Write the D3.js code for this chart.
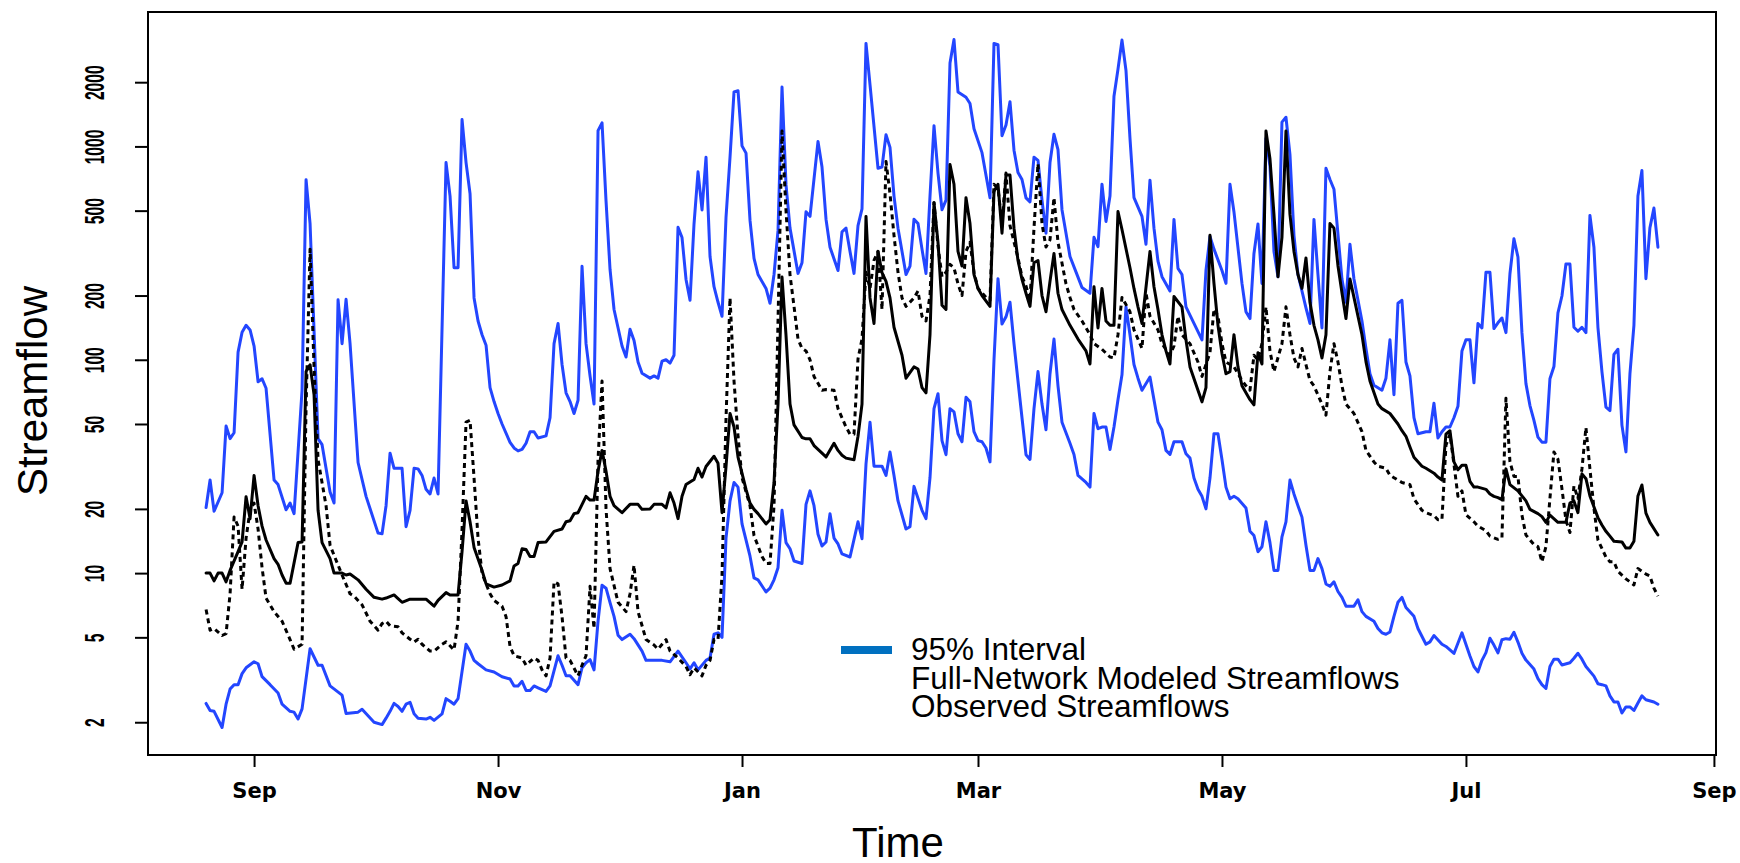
<!DOCTYPE html>
<html>
<head>
<meta charset="utf-8">
<script src="https://cdn.jsdelivr.net/npm/d3@7/dist/d3.min.js"></script>
<style>
  html, body { margin: 0; padding: 0; background: #fff; }
  svg { display: block; }
</style>
</head>
<body>
<svg id="chart" width="1740" height="863"></svg>
<script>
// Daily streamflow record, 20 Aug 2010 - 18 Aug 2011.
// Each series is a list of [day offset from startDate, streamflow].
const startDate = new Date(2010, 7, 20);

const upperBand = [[0,20.3],[1,27.3],[2,19.5],[4,23.8],[5,48.9],[6,42.7],[7,45.5],[8,108.6],[9,134.6],[10,145],[11,138],[12,116],[13,78.9],[14,81.5],[15,73.5],[17,27.3],[18,26],[20,19.8],[21,21.3],[22,19],[24,72],[25,698],[26,435],[28,42.7],[29,40],[31,24],[32,21.3],[33,191],[34,119],[35,192],[36,119],[38,33],[40,22.9],[43,15.4],[44,15.3],[45,20.7],[46,36.5],[47,31],[49,31],[50,16.5],[51,19.7],[52,31],[53,30.8],[54,28.7],[55,24.7],[56,23.5],[57,27.9],[58,23.5],[60,840],[61,585],[62,270],[63,270],[64,1336],[65,840],[66,600],[67,195],[68,152],[69,131],[70,117],[71,74],[72,63.7],[73,56],[74,50],[76,41],[77,38.6],[78,37.4],[79,38],[80,40.6],[81,46],[82,46],[83,43],[85,44],[86,53.5],[87,119],[88,148],[89,95],[90,70],[91,63.7],[92,56],[93,64.6],[94,274],[95,119],[96,84],[97,62],[98,1185],[99,1290],[100,556],[101,265],[102,172],[104,116],[105,103],[106,139],[107,123],[108,97.6],[109,86.4],[111,82],[112,84],[113,82],[114,98.5],[115,100],[116,96.5],[117,105],[118,418],[119,374],[120,238],[121,190],[122,434],[123,760],[124,504],[125,890],[126,305],[127,220],[128,186],[129,160],[130,466],[131,890],[132,1800],[133,1825],[134,1006],[135,930],[136,450],[137,299],[138,251],[140,216],[141,184],[142,251],[143,403],[144,1900],[145,660],[146,414],[148,254],[149,285],[150,494],[151,470],[153,1055],[154,800],[155,456],[156,337],[158,262],[159,398],[160,414],[161,322],[162,254],[163,425],[164,510],[165,3040],[166,1950],[168,790],[169,800],[170,1135],[171,990],[172,585],[173,414],[175,251],[176,275],[177,456],[178,435],[179,330],[180,254],[181,585],[182,1250],[183,750],[184,505],[185,560],[186,2460],[187,3170],[188,1800],[190,1700],[191,1590],[192,1210],[194,935],[196,574],[197,3040],[198,3000],[199,1122],[200,1260],[201,1620],[202,960],[203,755],[204,700],[205,574],[206,550],[207,890],[208,860],[209,560],[210,392],[211,840],[212,1140],[213,965],[214,505],[216,305],[218,244],[219,218],[221,205],[222,375],[223,339],[224,665],[225,445],[226,585],[227,1720],[228,2300],[229,3150],[230,2270],[231,1090],[232,575],[234,470],[235,348],[236,695],[237,414],[238,290],[239,245],[241,210],[242,455],[243,268],[244,251],[245,177],[247,148],[249,124],[250,262],[251,378],[252,330],[254,262],[255,228],[256,665],[257,493],[259,228],[260,168],[261,156],[262,315],[263,433],[264,228],[265,1090],[266,810],[267,322],[268,245],[269,1300],[270,1370],[271,915],[272,383],[273,251],[274,210],[275,175],[276,148],[277,455],[278,251],[279,141],[280,790],[281,700],[282,630],[284,239],[285,186],[286,348],[287,239],[289,152],[290,113],[291,86],[292,76],[294,72],[295,82],[296,124],[297,68.6],[298,184],[299,190],[300,97.6],[301,84],[302,53.5],[303,45],[305,46],[306,46],[307,62.6],[308,43],[309,46],[310,48.4],[311,48.4],[312,53.5],[313,60.5],[314,110],[315,124],[316,124],[317,78],[318,148],[319,141],[320,257],[321,257],[322,140],[323,149],[324,157],[325,134],[326,253],[327,369],[328,303],[329,134],[330,77.3],[331,61],[332,52],[333,43.4],[334,41.1],[335,41.1],[336,81.5],[337,92.9],[338,166],[339,199],[340,281],[341,281],[342,142],[343,136],[344,142],[345,134],[346,475],[347,337],[348,142],[349,88],[350,60],[351,57.8],[352,106],[353,112],[354,49.4],[355,37],[356,85.8],[357,145],[358,586],[359,771],[360,240],[361,416],[362,514],[363,337]];

const lowerBand = [[0,2.45],[1,2.27],[2,2.25],[4,1.89],[5,2.43],[6,2.86],[7,3.0],[8,3.0],[9,3.38],[10,3.6],[12,3.84],[13,3.76],[14,3.27],[16,3.0],[18,2.74],[19,2.43],[21,2.25],[22,2.23],[23,2.07],[24,2.31],[26,4.42],[28,3.7],[29,3.7],[31,2.96],[34,2.68],[35,2.2],[38,2.23],[39,2.3],[42,2.0],[44,1.95],[45,2.09],[46,2.25],[47,2.45],[48,2.37],[49,2.25],[50,2.43],[51,2.48],[52,2.19],[53,2.09],[55,2.07],[56,2.11],[57,2.04],[59,2.19],[60,2.58],[61,2.51],[62,2.43],[63,2.58],[65,4.64],[66,4.31],[67,3.9],[68,3.76],[70,3.52],[72,3.44],[74,3.27],[76,3.19],[77,2.96],[78,2.96],[79,3.11],[80,2.82],[81,2.82],[82,2.96],[83,2.9],[85,2.79],[86,2.96],[88,4.1],[89,3.7],[90,3.3],[91,3.3],[93,3.0],[94,3.6],[95,3.8],[96,3.93],[97,3.52],[98,5.95],[99,8.77],[100,8.5],[101,7.27],[102,6.27],[103,5.12],[104,4.88],[106,5.17],[107,4.93],[109,4.31],[110,3.9],[112,3.9],[114,3.9],[116,3.84],[118,4.31],[120,3.8],[121,3.56],[122,3.8],[123,3.52],[125,3.9],[126,4.0],[127,5.17],[128,5.25],[129,5.0],[130,14.6],[131,21.8],[132,26.6],[133,25.3],[134,17],[136,12],[137,9.5],[138,9.3],[140,8.16],[141,8.5],[142,9.3],[143,10.6],[144,19.7],[145,13.9],[146,13],[147,11.4],[149,11.1],[150,21],[151,24.3],[152,20.7],[153,15.2],[154,13.4],[155,14],[156,19],[157,14.6],[158,13.7],[159,12.3],[161,11.9],[163,17.4],[164,14.5],[165,32.5],[166,51],[167,31.7],[169,31.7],[170,28.7],[171,37],[172,28.7],[173,21.8],[175,16.1],[176,16.5],[177,25.5],[179,19.7],[180,18],[181,28],[182,59],[183,69.3],[184,41.8],[185,35.9],[186,59],[187,57],[188,45],[189,41.3],[190,66.7],[191,63.5],[192,46],[193,41.8],[194,41.3],[195,38.6],[196,33.2],[197,100],[198,240],[199,147],[200,159],[201,186],[202,119],[203,79.5],[204,53.5],[205,35.9],[206,34.1],[207,59],[208,88],[209,62],[210,47],[211,86],[212,125],[213,75.5],[214,51],[216,40.6],[217,36],[218,28.7],[220,26.6],[221,25.3],[222,56],[223,47.5],[224,48.4],[225,48.4],[226,38],[227,48.4],[228,65],[229,85],[230,177],[231,131],[232,95],[233,82],[234,72],[236,83],[237,65],[238,51],[239,47],[240,37.6],[241,36],[242,41.3],[244,41.3],[245,36.3],[246,34.6],[247,27.9],[248,24.7],[249,22.9],[250,20],[251,27.9],[252,45],[253,45],[254,34.1],[255,25.3],[256,22.3],[257,22.9],[258,22.3],[260,20.2],[261,15.7],[262,15],[263,12.6],[264,13.3],[265,17.4],[266,13.9],[267,10.3],[268,10.3],[269,14.8],[270,17.4],[271,27.3],[272,23.5],[273,20.7],[274,18.3],[275,13.5],[276,10.3],[277,10.3],[278,11.7],[279,10.5],[280,8.9],[281,8.67],[282,9.1],[283,8.2],[284,7.7],[285,7.0],[287,7.0],[288,7.5],[289,6.6],[290,6.27],[292,5.95],[293,5.5],[294,5.25],[295,5.17],[296,5.3],[297,6.27],[298,7.3],[299,7.7],[300,6.9],[302,6.27],[303,5.5],[305,4.64],[306,4.76],[307,5.1],[309,4.64],[310,4.53],[312,4.2],[314,5.25],[316,4.09],[317,3.65],[318,3.44],[319,3.9],[320,4.24],[321,4.95],[322,4.6],[323,4.23],[324,4.87],[325,4.93],[326,4.9],[327,5.28],[328,4.75],[329,4.21],[330,3.91],[332,3.55],[333,3.2],[334,3.0],[335,2.88],[336,3.65],[337,3.95],[338,3.95],[339,3.71],[341,3.8],[342,3.99],[343,4.21],[344,3.95],[345,3.65],[347,3.29],[348,3.03],[349,3.0],[350,2.96],[351,2.66],[352,2.49],[353,2.49],[354,2.21],[355,2.36],[356,2.36],[357,2.27],[358,2.46],[359,2.66],[360,2.55],[362,2.49],[363,2.43]];

const observed = [[0,10],[1,10],[2,9.2],[3,10],[4,10],[5,9.1],[6,10.3],[8,12.6],[9,14],[10,22.8],[11,18],[12,28.7],[13,20.7],[14,16.6],[15,14.3],[17,11.7],[18,11],[19,9.8],[20,8.97],[21,8.97],[23,13.9],[24,14],[25,88],[26,94.7],[27,68.6],[28,19.7],[29,13.9],[31,11.7],[32,10],[34,10],[35,9.8],[36,9.9],[38,9.3],[40,8.4],[42,7.7],[44,7.55],[45,7.64],[47,7.9],[48,7.6],[49,7.3],[51,7.55],[55,7.55],[57,7.0],[58,7.45],[60,8.1],[61,7.9],[63,7.9],[64,12.6],[65,21.8],[66,17.4],[67,13.2],[69,10.3],[70,8.9],[72,8.6],[74,8.8],[76,9.2],[77,10.8],[78,11.1],[79,13],[80,12.9],[81,11.96],[82,11.96],[83,13.9],[85,14],[87,15.7],[89,16.1],[90,17.4],[91,17.6],[92,19],[93,19.2],[95,22.9],[96,22],[97,22],[98,30],[99,37.6],[100,30],[101,22.9],[102,20.7],[104,19.2],[106,21],[108,21],[109,19.9],[111,20],[112,21],[114,21],[115,20.2],[116,23.8],[117,21.3],[118,18],[119,22.9],[120,26],[122,27.5],[123,31],[124,28.2],[125,31.6],[127,35.3],[128,32.7],[129,19.2],[130,31.6],[131,56],[132,48.4],[133,35],[135,24.7],[136,21.3],[137,19.9],[138,19],[140,17],[141,17.8],[142,26.6],[143,62],[144,244],[145,130],[146,62],[147,49.5],[149,43.2],[150,42.6],[151,42.6],[152,39.6],[154,36.5],[155,35],[157,40.6],[158,37.6],[159,35.7],[160,34.6],[162,34],[163,43.8],[164,62],[165,470],[166,195],[167,148],[168,322],[169,256],[170,233],[171,195],[172,142],[174,105],[175,82],[177,92.6],[178,90.5],[179,74],[180,70],[181,131],[182,545],[183,355],[184,180],[185,172],[186,823],[187,665],[188,322],[189,275],[190,575],[191,435],[192,251],[193,216],[194,200],[196,178],[197,615],[198,665],[199,392],[200,734],[201,734],[202,414],[203,292],[204,238],[205,205],[206,178],[207,285],[208,292],[209,200],[210,168],[211,233],[212,315],[213,205],[214,172],[216,145],[218,125],[220,110],[221,95.5],[222,220],[223,141],[224,216],[225,152],[226,145],[227,145],[228,495],[229,408],[231,270],[232,216],[233,177],[234,148],[236,322],[237,220],[238,172],[239,131],[240,110],[241,95.5],[242,198],[244,177],[245,124],[246,92.6],[248,72],[249,63.5],[250,74],[251,383],[252,228],[253,145],[254,107],[255,86],[256,88],[257,131],[258,92.6],[259,75.5],[261,65],[262,61.5],[263,108],[264,95.5],[265,1180],[266,875],[267,480],[268,245],[269,375],[270,1180],[271,480],[272,322],[273,251],[274,216],[275,300],[276,186],[277,145],[278,124],[279,102],[280,131],[281,435],[282,414],[283,276],[284,206],[285,156],[286,239],[287,196],[289,131],[290,98],[291,79.5],[293,62],[294,59],[296,56],[298,50],[299,46.5],[300,43.8],[301,39],[302,34.9],[304,31.7],[305,31],[307,29.4],[308,28.2],[309,27.3],[310,44.8],[311,46.5],[312,33.2],[313,30.5],[314,32],[315,32],[316,26.9],[317,25.3],[318,25.3],[320,24.7],[321,23.5],[322,22.9],[323,22.6],[324,22.1],[325,30.8],[326,26],[328,24.3],[329,23],[330,21.8],[331,19.9],[333,19],[334,18.4],[335,17.3],[336,18.7],[338,17.3],[340,17.3],[341,21.3],[342,21.8],[343,19.2],[344,29.2],[345,27.7],[346,23],[348,18.2],[349,16.8],[350,15.7],[351,14.9],[352,14.1],[354,14.0],[355,13.1],[356,13.1],[357,14.1],[358,23],[359,25.9],[360,19.1],[361,17.3],[363,15.1]];

const modeled = [[0,6.75],[1,5.4],[2,5.5],[4,5.1],[5,5.2],[6,8],[7,18.3],[8,16.6],[9,8.4],[10,14.6],[11,19.7],[12,21.3],[13,16.1],[14,10.6],[15,7.64],[17,6.6],[19,5.95],[21,4.88],[22,4.4],[24,4.64],[25,60],[26,330],[27,92],[28,34],[30,20.7],[31,13.5],[34,9.8],[36,8],[37,7.8],[39,7.1],[41,5.95],[43,5.4],[44,5.8],[45,5.95],[46,5.66],[48,5.6],[49,5.25],[51,4.9],[52,4.75],[53,4.9],[54,4.64],[56,4.31],[57,4.31],[59,4.64],[60,4.76],[62,4.37],[63,5.95],[64,16.1],[65,51],[66,52],[67,27.9],[68,14.6],[69,10],[70,8.9],[71,8.0],[72,7.45],[74,7.0],[75,6.25],[76,4.53],[77,4.1],[79,4.0],[80,3.7],[82,4.0],[83,3.9],[84,3.52],[85,3.3],[86,4.0],[87,9.1],[88,8.9],[89,6.25],[90,4.0],[91,3.9],[93,3.3],[94,3.7],[95,4.1],[96,8.67],[97,5.5],[98,34],[99,79.5],[100,20],[101,10.5],[103,7.3],[105,6.6],[106,8],[107,10.9],[108,6.6],[110,4.88],[112,4.6],[113,4.4],[115,4.88],[116,4.31],[118,4.0],[120,3.65],[121,3.34],[122,3.6],[124,3.3],[125,3.7],[126,3.9],[127,4.88],[128,4.88],[129,9.8],[130,53],[131,195],[132,79.5],[133,43.8],[134,28],[136,20.7],[137,15],[139,11.96],[140,11.1],[141,11.1],[142,20.7],[143,152],[144,1180],[145,500],[146,250],[147,178],[148,125],[149,113],[150,110],[151,100],[152,83.5],[154,72],[155,72.5],[157,72],[158,59],[160,48.4],[161,44.8],[162,44.8],[163,101],[164,125],[165,257],[166,216],[167,292],[168,322],[169,172],[170,850],[171,600],[172,383],[173,257],[174,195],[175,178],[177,195],[178,210],[179,160],[180,152],[181,200],[182,545],[183,340],[184,245],[185,257],[186,280],[187,270],[188,227],[189,200],[190,322],[191,355],[192,257],[193,216],[195,196],[196,190],[197,665],[198,635],[199,434],[200,750],[201,425],[203,300],[204,245],[205,222],[206,190],[207,414],[208,830],[209,434],[210,338],[211,365],[212,575],[213,355],[215,227],[216,196],[217,172],[219,152],[221,131],[222,119],[224,112],[226,103],[227,102],[228,131],[229,196],[231,168],[232,138],[233,125],[234,113],[235,206],[236,160],[238,138],[239,119],[241,105],[242,116],[243,160],[244,131],[246,119],[248,97.6],[249,83.5],[251,108],[252,173],[253,160],[254,119],[255,97.6],[257,92.6],[259,80],[260,75.5],[261,72],[262,105],[263,100],[264,119],[265,177],[266,110],[267,88],[269,119],[270,177],[271,131],[272,102],[273,92.6],[274,113],[275,95],[276,80],[277,75.5],[279,62],[280,55],[281,88],[282,119],[283,97.6],[284,75.5],[285,62],[287,56],[289,46],[290,37.6],[292,33.2],[293,31.7],[295,31],[296,28.7],[297,28],[299,26.6],[301,26],[302,22.3],[304,19.7],[305,19.2],[307,18.6],[308,17.8],[309,17.8],[310,39.7],[311,44.8],[312,32.4],[313,22.9],[314,24.3],[315,18.8],[317,17.4],[318,16.6],[320,15.8],[321,14.9],[323,14.4],[324,14.6],[325,66],[326,33.3],[327,28.4],[328,28.4],[329,18.7],[330,15.1],[332,13.6],[333,13.3],[334,11.3],[335,13.3],[336,22.4],[337,37],[338,34.2],[339,24.9],[340,17.7],[341,15.5],[342,25.6],[343,22.4],[344,30.8],[345,48.1],[346,30.8],[347,20.2],[348,14.3],[350,11.9],[351,11.3],[352,11.3],[353,10.2],[355,9.4],[357,8.8],[358,10.5],[359,10.2],[360,9.9],[361,9.7],[362,8.5],[363,7.8]];

const monthTicks = ["2010-09-01","2010-11-01","2011-01-01","2011-03-01","2011-05-01","2011-07-01","2011-09-01"];
const flowTicks = [2, 5, 10, 20, 50, 100, 200, 500, 1000, 2000];
const legendLabels = ["95% Interval", "Full-Network Modeled Streamflows", "Observed Streamflows"];

// ---- layout ----
const plot = { left: 148, right: 1716, top: 12, bottom: 755 };
const bandColor = "#2346ff";
const legendColor = "#0070c0";
const sans = "'Liberation Sans', Arial, Helvetica, sans-serif";

const svg = d3.select("#chart");
const dayToDate = d => d3.timeDay.offset(startDate, d);

// x: dates with 4% padding on each side
const firstDay = dayToDate(0), lastDay = dayToDate(363);
const span = lastDay - firstDay;
const x = d3.scaleTime()
  .domain([new Date(+firstDay - 0.04 * span), new Date(+lastDay + 0.04 * span)])
  .range([plot.left, plot.right]);

// y: log scale, padded by 4% of the log range
const allVals = [...upperBand, ...lowerBand, ...observed, ...modeled].map(d => d[1]);
const lmin = Math.log10(d3.min(allVals)), lmax = Math.log10(d3.max(allVals));
const lpad = 0.04 * (lmax - lmin);
const y = d3.scaleLog()
  .domain([Math.pow(10, lmin - lpad), Math.pow(10, lmax + lpad)])
  .range([plot.bottom, plot.top]);

const line = d3.line()
  .x(d => x(dayToDate(d[0])))
  .y(d => y(d[1]));

const g = svg.append("g");

g.append("path").datum(upperBand).attr("d", line)
  .attr("fill", "none").attr("stroke", bandColor).attr("stroke-width", 3)
  .attr("stroke-linejoin", "round").attr("stroke-linecap", "round");
g.append("path").datum(lowerBand).attr("d", line)
  .attr("fill", "none").attr("stroke", bandColor).attr("stroke-width", 3)
  .attr("stroke-linejoin", "round").attr("stroke-linecap", "round");
g.append("path").datum(modeled).attr("d", line)
  .attr("fill", "none").attr("stroke", "#000").attr("stroke-width", 3)
  .attr("stroke-dasharray", "5,4").attr("stroke-linejoin", "round");
g.append("path").datum(observed).attr("d", line)
  .attr("fill", "none").attr("stroke", "#000").attr("stroke-width", 3)
  .attr("stroke-linejoin", "round").attr("stroke-linecap", "round");

// ---- axes ----
const parse = d3.timeParse("%Y-%m-%d");
const xAxis = svg.append("g")
  .attr("transform", `translate(0,${plot.bottom})`)
  .call(d3.axisBottom(x)
    .tickValues(monthTicks.map(parse))
    .tickSize(12)
    .tickFormat(d3.timeFormat("%b")));
xAxis.select(".domain").remove();
xAxis.selectAll(".tick line").attr("stroke", "#000").attr("stroke-width", 2);
xAxis.selectAll(".tick text")
  .attr("y", 43).attr("dy", null)
  .attr("fill", "#000")
  .style("font-family", "'DejaVu Sans', sans-serif")
  .style("font-weight", "bold")
  .style("font-size", "21px");

const yAxis = svg.append("g")
  .attr("transform", `translate(${plot.left},0)`)
  .call(d3.axisLeft(y)
    .tickValues(flowTicks)
    .tickSize(13)
    .tickFormat(d3.format("d")));
yAxis.select(".domain").remove();
yAxis.selectAll(".tick line").attr("stroke", "#000").attr("stroke-width", 2);
yAxis.selectAll(".tick text")
  .attr("x", null).attr("dy", null)
  .attr("text-anchor", "middle")
  .attr("transform", "translate(-44,0) rotate(-90) scale(0.58,1)")
  .attr("fill", "#000")
  .style("font-family", sans)
  .style("font-weight", "bold")
  .style("font-size", "27px");

// plot frame
svg.append("rect")
  .attr("x", plot.left).attr("y", plot.top)
  .attr("width", plot.right - plot.left).attr("height", plot.bottom - plot.top)
  .attr("fill", "none").attr("stroke", "#000").attr("stroke-width", 2);

// axis titles
svg.append("text")
  .attr("x", 898).attr("y", 857)
  .attr("text-anchor", "middle")
  .style("font-family", sans)
  .style("font-size", "42px")
  .text("Time");

svg.append("text")
  .attr("transform", "translate(47,391) rotate(-90)")
  .attr("text-anchor", "middle")
  .style("font-family", sans)
  .style("font-size", "42px")
  .text("Streamflow");

// legend
const legend = svg.append("g").attr("transform", "translate(841,0)");
legend.append("line")
  .attr("x1", 0).attr("x2", 51).attr("y1", 650).attr("y2", 650)
  .attr("stroke", legendColor).attr("stroke-width", 8);
legend.selectAll("text.lab").data(legendLabels).enter().append("text")
  .attr("class", "lab")
  .attr("x", 70)
  .attr("y", (d, i) => 660 + i * 28.5)
  .style("font-family", sans)
  .style("font-size", "31.5px")
  .text(d => d);
</script>
</body>
</html>
